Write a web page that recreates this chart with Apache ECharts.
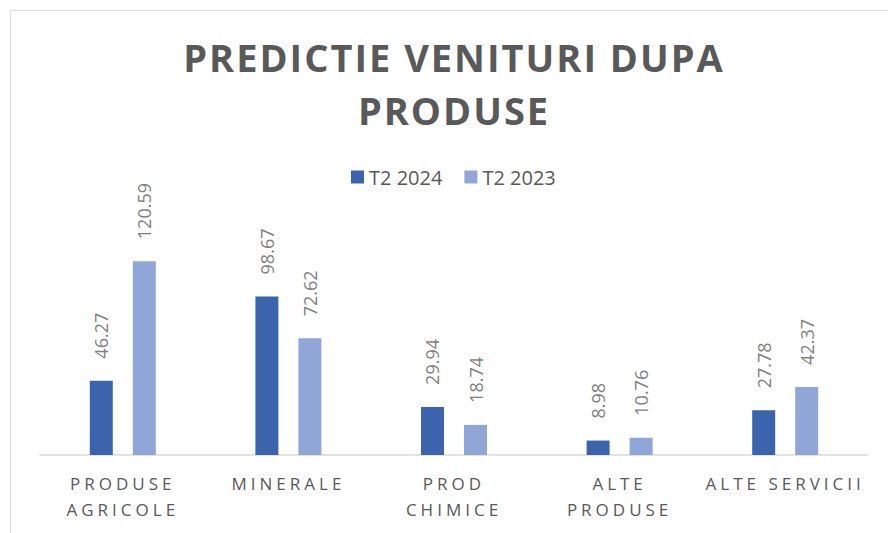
<!DOCTYPE html>
<html>
<head>
<meta charset="utf-8">
<script src="https://cdn.jsdelivr.net/npm/echarts@6/dist/echarts.min.js"></script>
<style>
html,body{margin:0;padding:0;background:#fff;}
#chart{width:888px;height:533px;}
#chart svg text[style*="38px"]{letter-spacing:2px;}
#chart svg text[style*="17px"]{letter-spacing:4px;}
</style>
</head>
<body>
<div id="chart"></div>
<script>
const titleText = 'PREDICTIE VENITURI DUPA\nPRODUSE';
const categories = ['PRODUSE\nAGRICOLE', 'MINERALE', 'PROD\nCHIMICE', 'ALTE\nPRODUSE', 'ALTE SERVICII'];
const seriesNames = ['T2 2024', 'T2 2023'];
const t2_2024 = [46.27, 98.67, 29.94, 8.98, 27.78];
const t2_2023 = [120.59, 72.62, 18.74, 10.76, 42.37];

const chart = echarts.init(document.getElementById('chart'), null, {renderer: 'svg'});
const labelCfg = {
  show: true,
  position: 'top',
  rotate: 90,
  align: 'left',
  verticalAlign: 'middle',
  distance: 22,
  color: '#7f7f7f',
  fontSize: 18,
  fontFamily: 'Open Sans',
  formatter: p => p.value.toFixed(2)
};
chart.setOption({
  animation: false,
  backgroundColor: '#ffffff',
  graphic: [{
    type: 'rect',
    shape: {x: 10.5, y: 10.5, width: 1200, height: 1200},
    style: {fill: 'none', stroke: '#d9d9d9', lineWidth: 1},
    silent: true
  }],
  title: {
    text: titleText,
    left: 449,
    textAlign: 'center',
    top: 25,
    textStyle: {
      fontFamily: 'Open Sans',
      fontWeight: 'bold',
      fontSize: 38,
      lineHeight: 53,
      color: '#595959'
    }
  },
  legend: {
    data: seriesNames,
    left: 351,
    top: 167,
    padding: 0,
    itemWidth: 13,
    itemHeight: 13,
    itemGap: 22,
    icon: 'rect',
    textStyle: {fontFamily: 'Open Sans', fontSize: 20, color: '#595959'}
  },
  grid: {left: 40, right: 20, top: 230, bottom: 78, containLabel: false},
  xAxis: {
    type: 'category',
    data: categories,
    axisLine: {lineStyle: {color: '#d9d9d9', width: 1.5}},
    axisTick: {show: false},
    axisLabel: {
      interval: 0,
      margin: 15,
      fontFamily: 'Open Sans',
      fontSize: 17,
      lineHeight: 26,
      color: '#595959'
    }
  },
  yAxis: {
    type: 'value',
    min: 0,
    max: 140,
    show: false,
    splitLine: {show: false}
  },
  series: [
    {
      name: seriesNames[0],
      type: 'bar',
      data: t2_2024,
      barWidth: 23,
      barGap: '87%',
      itemStyle: {color: '#3b64ad'},
      label: labelCfg
    },
    {
      name: seriesNames[1],
      type: 'bar',
      data: t2_2023,
      barWidth: 23,
      barGap: '87%',
      itemStyle: {color: '#8fa6d6'},
      label: labelCfg
    }
  ]
});
</script>
</body>
</html>
